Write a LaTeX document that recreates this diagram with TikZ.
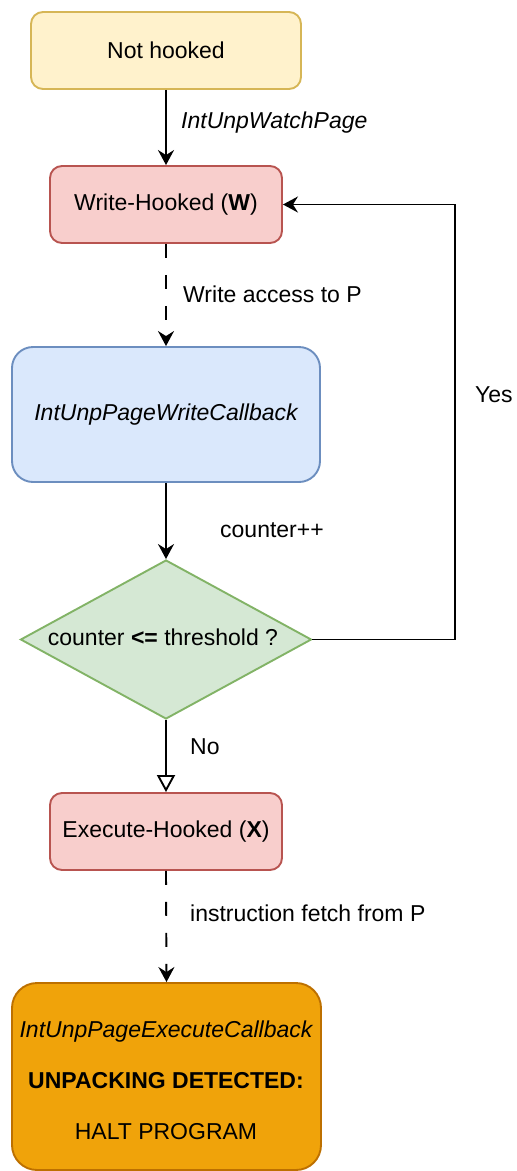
\documentclass[tikz,border=0pt]{standalone}
\usepackage{fontspec}
\setmainfont{Liberation Sans}
\usetikzlibrary{shapes.geometric,arrows.meta}

\definecolor{yelfill}{HTML}{FFF2CC}\definecolor{yelline}{HTML}{D6B656}
\definecolor{redfill}{HTML}{F8CECC}\definecolor{redline}{HTML}{B85450}
\definecolor{bluefill}{HTML}{DAE8FC}\definecolor{blueline}{HTML}{6C8EBF}
\definecolor{grnfill}{HTML}{D5E8D4}\definecolor{grnline}{HTML}{82B366}
\definecolor{orfill}{HTML}{F0A30A}\definecolor{orline}{HTML}{BD7000}

\begin{document}
\begin{tikzpicture}[x=1pt,y=-1pt,
  font=\fontsize{23}{28}\selectfont,
  statebox/.style={draw, line width=1.9pt, rounded corners=12pt,
    minimum width=232pt, minimum height=77pt, inner sep=0pt},
  lbl/.style={anchor=west, inner sep=0pt},
  conn/.style={line width=1.9pt, -{Stealth[length=15pt,width=16pt,inset=5pt]}},
  dconn/.style={conn, dash pattern=on 14pt off 17pt},
]
\useasboundingbox (0,0) rectangle (517,1171);

% states and callbacks
\node[statebox, fill=yelfill, draw=yelline, minimum width=270pt] (nh) at (166,50.5) {Not hooked};
\node[statebox, fill=redfill, draw=redline] (wh) at (166,204.5) {Write-Hooked (\textbf{W})};
\node[statebox, fill=bluefill, draw=blueline, minimum width=308pt, minimum height=135pt,
  rounded corners=21pt] (cb) at (166,414.5) {\itshape IntUnpPageWriteCallback};
\node[diamond, draw=grnline, fill=grnfill, line width=1.9pt, inner sep=0pt,
  minimum width=291pt, minimum height=159pt] (dm) at (166,639.5) {};
\node[inner sep=0pt] (dmt) at (163,637) {counter \textbf{<=} threshold ?};
\node[statebox, fill=redfill, draw=redline] (ex) at (166,831.5) {Execute-Hooked (\textbf{X})};
\node[statebox, fill=orfill, draw=orline, minimum width=309pt, minimum height=187pt,
  rounded corners=25pt] (hb) at (166.5,1076.5) {};
\node[align=center, inner sep=0pt, font=\fontsize{23}{51}\selectfont] (hbt) at (166,1080)
  {{\itshape IntUnpPageExecuteCallback}\\{\bfseries UNPACKING DETECTED:}\\HALT PROGRAM};

% connectors
\draw[conn] (nh.south) -- (wh.north);
\draw[dconn] (wh.south) -- (cb.north);
\draw[conn] (cb.south) -- (dm.north);
\coordinate (yesx) at (455,400);
\draw[conn] (dm.east) -| (yesx) |- (wh.east);
\draw[line width=1.9pt, -{Triangle[length=17pt,width=18pt,fill=white]}] (dm.south) -- (ex.north);
\draw[dconn] (ex.south) -- (hb.north);

% connector labels
\node[lbl] (l1) at (181,123) {\itshape IntUnpWatchPage};
\node[lbl] (l2) at (183,294) {Write access to P};
\node[lbl] (l3) at (220,530) {counter++};
\node[lbl] (l4) at (475,395) {Yes};
\node[lbl] (l5) at (190,747) {No};
\node[lbl] (l6) at (190,913) {instruction fetch from P};
\end{tikzpicture}
\end{document}
